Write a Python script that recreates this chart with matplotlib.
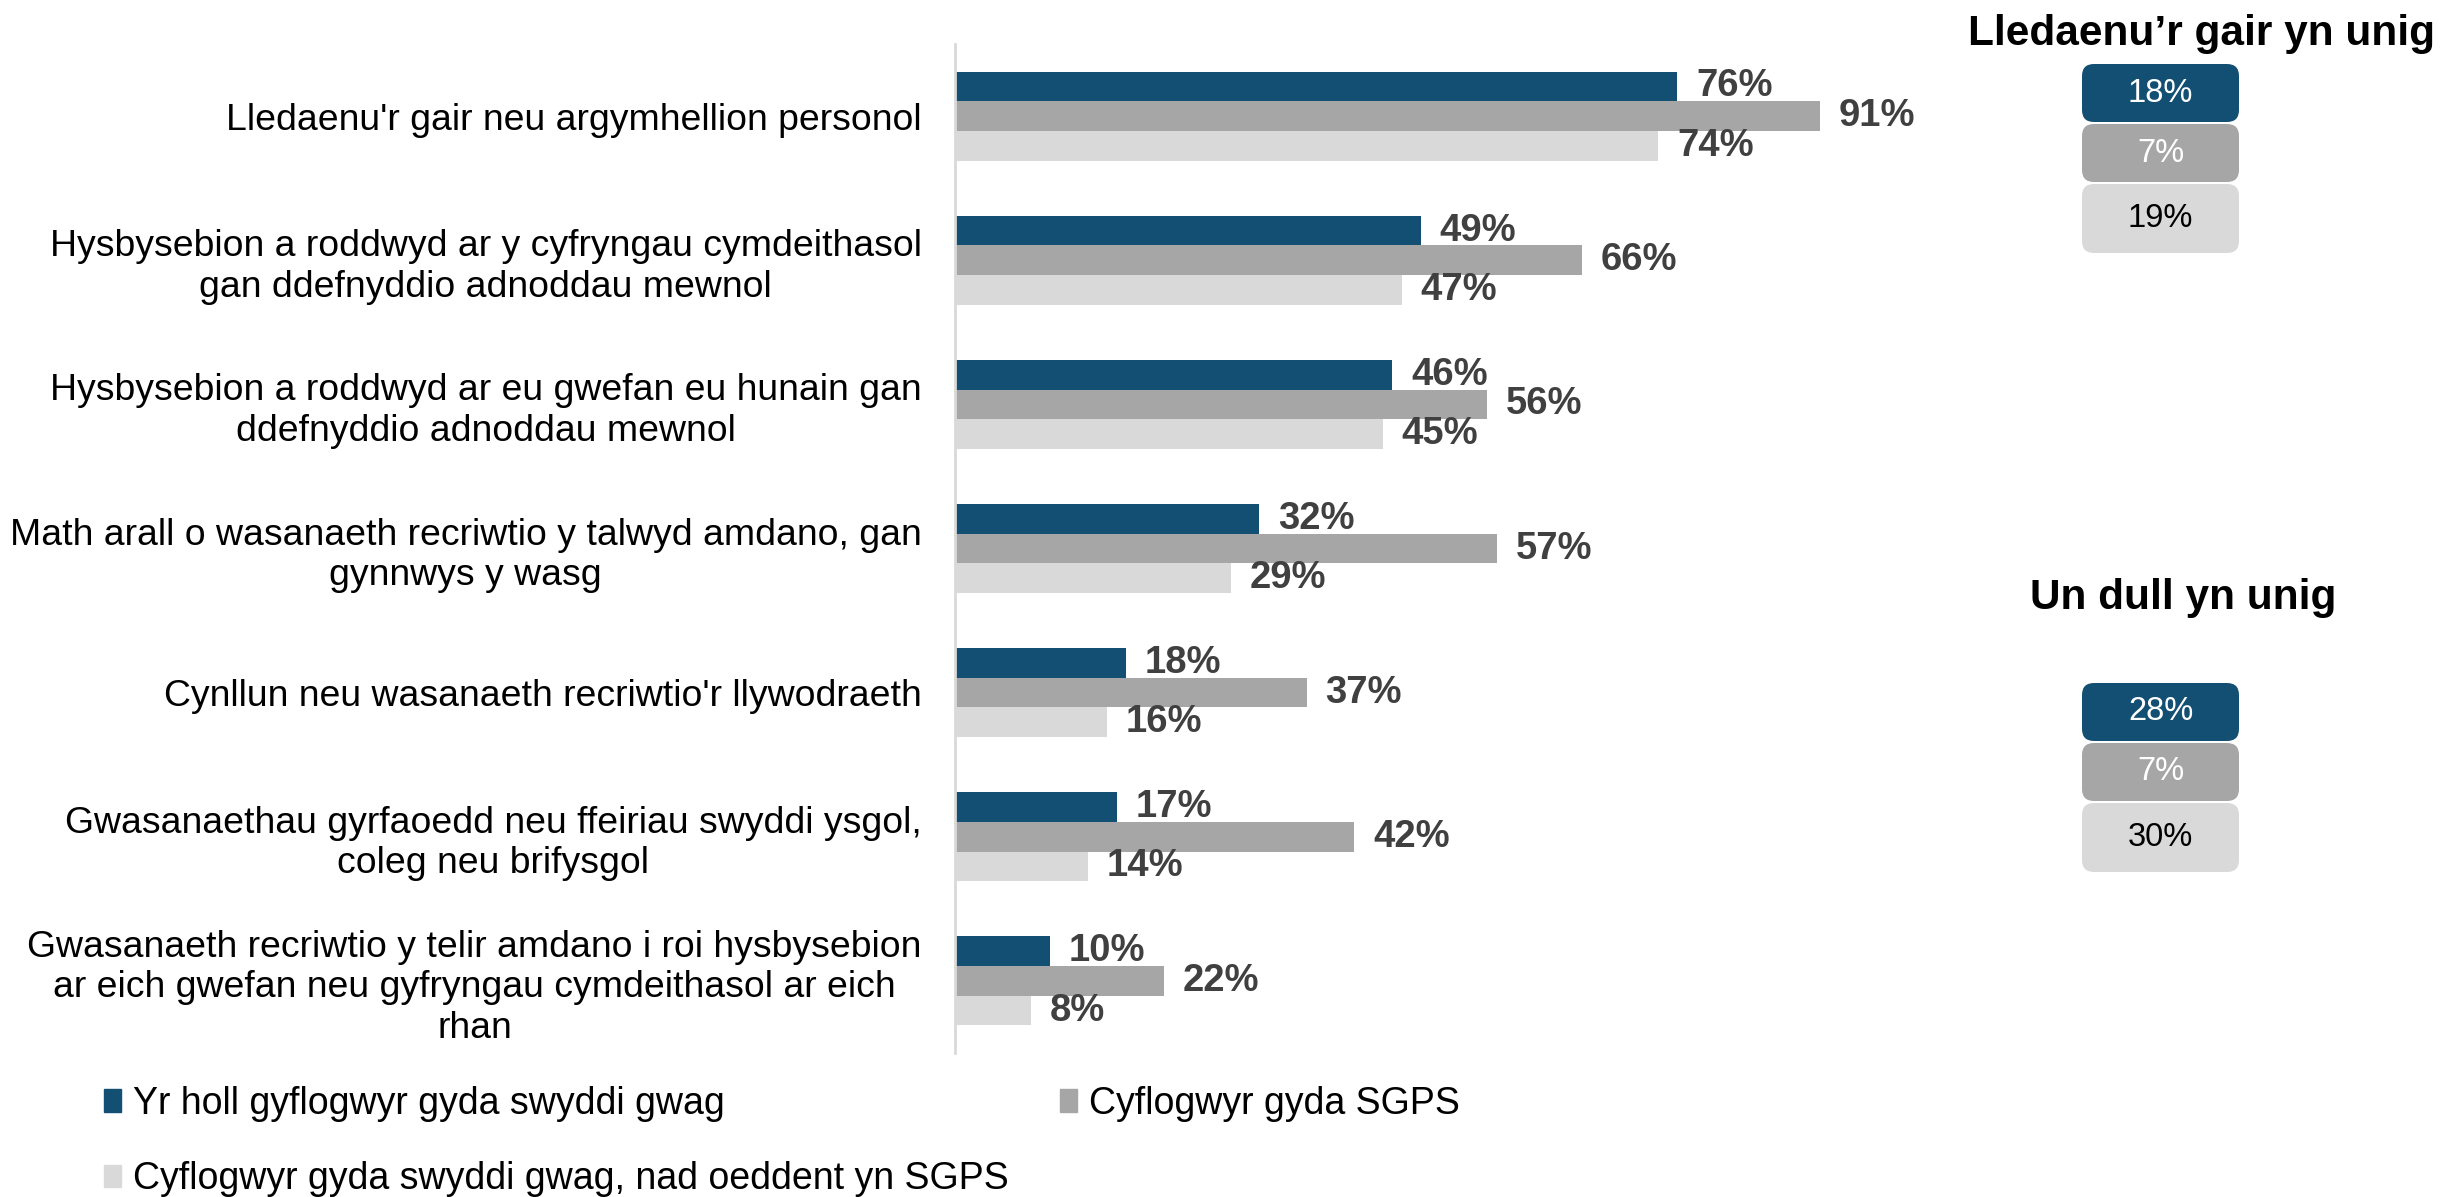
"""Recruitment methods used by employers with vacancies (Welsh labels)."""

import matplotlib.pyplot as plt
from matplotlib.patches import FancyBboxPatch, Patch

plt.rcParams["font.family"] = ["Liberation Sans", "DejaVu Sans"]

categories = [
    "Lledaenu'r gair neu argymhellion personol",
    "Hysbysebion a roddwyd ar y cyfryngau cymdeithasol\ngan ddefnyddio adnoddau mewnol",
    "Hysbysebion a roddwyd ar eu gwefan eu hunain gan\nddefnyddio adnoddau mewnol",
    "Math arall o wasanaeth recriwtio y talwyd amdano, gan\ngynnwys y wasg",
    "Cynllun neu wasanaeth recriwtio'r llywodraeth",
    "Gwasanaethau gyrfaoedd neu ffeiriau swyddi ysgol,\ncoleg neu brifysgol",
    "Gwasanaeth recriwtio y telir amdano i roi hysbysebion\nar eich gwefan neu gyfryngau cymdeithasol ar eich\nrhan",
]
series_names = [
    "Yr holl gyflogwyr gyda swyddi gwag",
    "Cyflogwyr gyda SGPS",
    "Cyflogwyr gyda swyddi gwag, nad oeddent yn SGPS",
]
all_employers = [76, 49, 46, 32, 18, 17, 10]
sgps = [91, 66, 56, 57, 37, 42, 22]
non_sgps = [74, 47, 45, 29, 16, 14, 8]

panel_titles = ["Lledaenu\u2019r gair yn unig", "Un dull yn unig"]
word_only = [18, 7, 19]
one_method = [28, 7, 30]

colors = ["#124F73", "#A6A6A6", "#D9D9D9"]
box_text_colors = ["white", "white", "black"]
value_color = "#404040"

W, H = 2445, 1197
fig = plt.figure(figsize=(W / 100, H / 100), dpi=100)

ax = fig.add_axes([955 / W, 1 - 1053 / H, 950 / W, 1009 / H])
bar_h = 0.206
ypos = list(range(len(categories)))
for k, vals in enumerate([all_employers, sgps, non_sgps]):
    offs = (k - 1) * bar_h
    ys = [y + offs for y in ypos]
    ax.barh(ys, vals, height=bar_h, color=colors[k], label=series_names[k])
    for y, v in zip(ys, vals):
        ax.text(v + 2.0, y, f"{v}%", va="center", ha="left",
                fontsize=27.5, fontweight="bold", color=value_color)

ax.set_xlim(0, 100)
ax.set_ylim(len(categories) - 0.5, -0.5)
ax.set_yticks(ypos)
ax.set_yticklabels(categories, fontsize=26.9, linespacing=1.2)
for lbl in ax.get_yticklabels():
    lbl.set_multialignment("center")
ax.tick_params(axis="y", length=0, pad=24)
ax.set_xticks([])
for side in ["top", "right", "bottom"]:
    ax.spines[side].set_visible(False)
ax.spines["left"].set_color("#D9D9D9")
ax.spines["left"].set_linewidth(2)

handles = [Patch(color=c) for c in colors]
order = [0, 2, 1]
fig.legend([handles[i] for i in order], [series_names[i] for i in order],
           loc="upper left", bbox_to_anchor=(104 / W, 1 - 1086 / H),
           ncol=2, frameon=False, fontsize=27, handlelength=0.45,
           handleheight=0.55, handletextpad=0.33, columnspacing=1.36,
           labelspacing=1.05, borderpad=0, borderaxespad=0)

# right-hand summary panels drawn in pixel coordinates
ov = fig.add_axes([0, 0, 1, 1])
ov.set_xlim(0, W)
ov.set_ylim(H, 0)
ov.axis("off")

box_x0, box_w = 2082, 157
box_heights = [60, 60, 71]
panels = [
    (panel_titles[0], 2201, 45, 63, word_only),
    (panel_titles[1], 2183, 609, 682, one_method),
]
for title, tx, ty, top, vals in panels:
    ov.text(tx, ty, title, ha="center", va="baseline",
            fontsize=30.5, fontweight="bold", color="black")
    y0 = top
    for k, v in enumerate(vals):
        h = box_heights[k]
        ov.add_patch(FancyBboxPatch((box_x0, y0 + 1), box_w, h - 2,
                                    boxstyle="round,pad=0,rounding_size=12",
                                    facecolor=colors[k], edgecolor="none"))
        ov.text(box_x0 + box_w / 2, y0 + h / 2, f"{v}%", ha="center",
                va="center", fontsize=23.5, color=box_text_colors[k])
        y0 += h

fig.savefig("out.png", dpi=100)
